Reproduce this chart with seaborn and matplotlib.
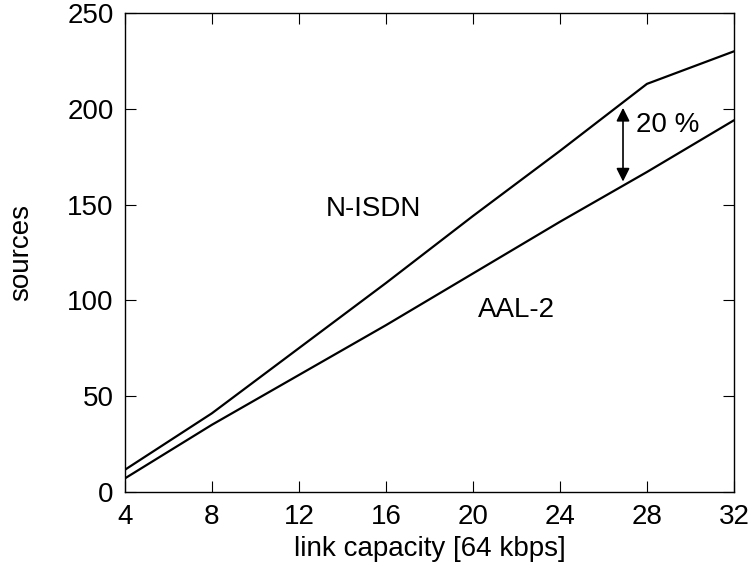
import pandas as pd
import matplotlib.pyplot as plt
import seaborn as sns

# values
capacity = [4, 8, 12, 16, 20, 24, 28, 32]
nisdn = [11.5, 41, 75, 109, 144, 178, 213, 230]
aal2 = [7, 35, 61, 87, 114, 141, 167, 194]
x_ticks = [4, 8, 12, 16, 20, 24, 28, 32]
y_ticks = [0, 50, 100, 150, 200, 250]

df = pd.DataFrame({
    'capacity': capacity * 2,
    'sources': nisdn + aal2,
    'scheme': ['N-ISDN'] * len(capacity) + ['AAL-2'] * len(capacity),
})

sns.set_theme(style='ticks')
plt.rcParams['font.family'] = ['Liberation Sans', 'DejaVu Sans']
plt.rcParams['text.color'] = 'black'
plt.rcParams['axes.labelcolor'] = 'black'

fig = plt.figure(figsize=(7.52, 5.66), dpi=100)
ax = fig.add_axes([0.166, 0.131, 0.81, 0.846])

sns.lineplot(data=df, x='capacity', y='sources', units='scheme', estimator=None,
             color='black', linewidth=1.6, ax=ax, legend=False)

ax.set_xlim(4, 32)
ax.set_ylim(0, 250)
ax.set_xticks(x_ticks)
ax.set_yticks(y_ticks)
ax.tick_params(direction='in', length=8, width=0.8, labelsize=20, colors='black',
               top=True, right=True, pad=8)
ax.tick_params(axis='x', pad=9)
for s in ax.spines.values():
    s.set_color('black')
    s.set_linewidth(1.0)

ax.set_xlabel('link capacity [64 kbps]', fontsize=20, labelpad=4)
ax.set_ylabel('sources', fontsize=20, labelpad=24)

# annotations
ax.text(15.45, 147.5, 'N-ISDN', fontsize=20, ha='center', va='center')
ax.text(22, 95, 'AAL-2', fontsize=20, ha='center', va='center')
ax.annotate('', xy=(26.9, 200.5), xytext=(26.9, 162),
            arrowprops=dict(arrowstyle='<|-|>', color='black', lw=1.2,
                            mutation_scale=20, shrinkA=0, shrinkB=0))
ax.text(27.5, 191.5, '20 %', fontsize=20, ha='left', va='center')

fig.savefig('out.png', dpi=100)
